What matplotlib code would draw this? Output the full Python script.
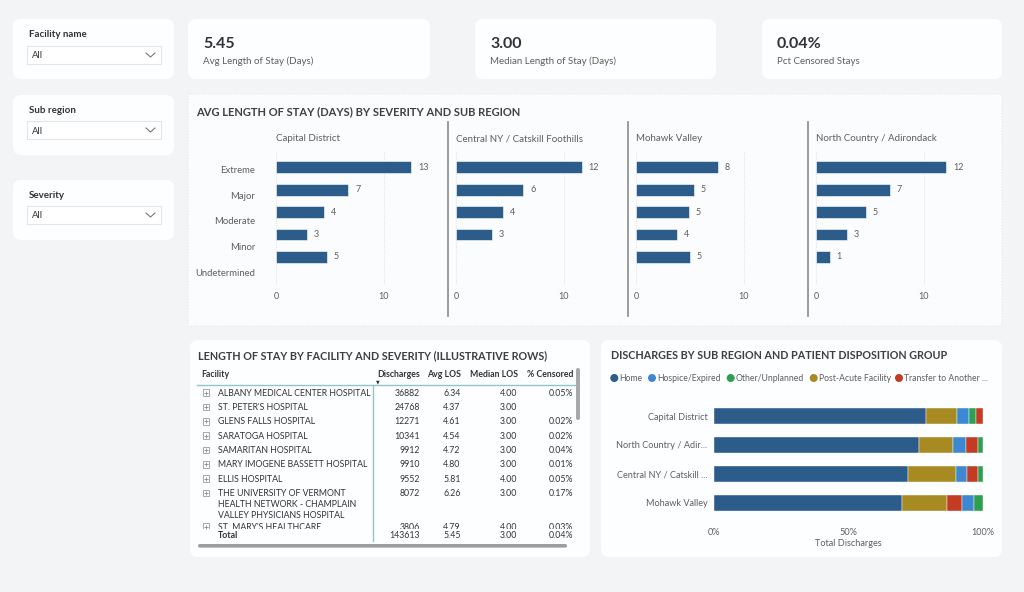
import numpy as np
import matplotlib.pyplot as plt
from matplotlib.patches import FancyBboxPatch, Rectangle, Circle

plt.rcParams['font.family'] = ['Lato', 'DejaVu Sans']

# ---- data ----
kpi_values = ['5.45', '3.00', '0.04%']
kpi_labels = ['Avg Length of Stay (Days)', 'Median Length of Stay (Days)', 'Pct Censored Stays']
filter_names = ['Facility name', 'Sub region', 'Severity']

severity = ['Extreme', 'Major', 'Moderate', 'Minor', 'Undetermined']
sub_regions = ['Capital District', 'Central NY / Catskill Foothills',
               'Mohawk Valley', 'North Country / Adirondack']
los_capital = [12.57, 6.72, 4.46, 2.85, 4.74]
los_central = [11.67, 6.25, 4.37, 3.34, np.nan]
los_mohawk = [7.59, 5.39, 4.89, 3.81, 4.98]
los_north = [12.10, 6.84, 4.64, 2.85, 1.27]

facilities = ['ALBANY MEDICAL CENTER HOSPITAL', "ST. PETER'S HOSPITAL", 'GLENS FALLS HOSPITAL',
              'SARATOGA HOSPITAL', 'SAMARITAN HOSPITAL', 'MARY IMOGENE BASSETT HOSPITAL',
              'ELLIS HOSPITAL',
              'THE UNIVERSITY OF VERMONT\nHEALTH NETWORK - CHAMPLAIN\nVALLEY PHYSICIANS HOSPITAL',
              "ST. MARY'S HEALTHCARE"]
discharges = [36882, 24768, 12271, 10341, 9912, 9910, 9552, 8072, 3806]
avg_los = [6.34, 4.37, 4.61, 4.54, 4.72, 4.80, 5.81, 6.26, 4.79]
median_los = [4.00, 3.00, 3.00, 3.00, 3.00, 3.00, 4.00, 3.00, 4.00]
pct_censored = ['0.05%', '', '0.02%', '0.02%', '0.04%', '0.01%', '0.05%', '0.17%', '0.03%']
total_row = ['Total', '143613', '5.45', '3.00', '0.04%']

disp_groups = ['Home', 'Hospice/Expired', 'Other/Unplanned', 'Post-Acute Facility', 'Transfer to Another ...']
disp_regions = ['Capital District', 'North Country / Adir...', 'Central NY / Catskill ...', 'Mohawk Valley']
share_home = [78.8, 76.1, 72.0, 69.9]
share_hospice = [4.2, 4.8, 4.2, 4.2]
share_other = [2.7, 1.9, 1.7, 3.4]
share_postacute = [11.8, 13.0, 17.9, 16.8]
share_transfer = [2.5, 4.2, 4.2, 5.7]
disp_colors = ['#2b5c8a', '#3d88d0', '#2e9e4f', '#a88a22', '#c23b22']

# ---- colours ----
BG = '#f2f4f5'
CARD = '#fdfeff'
BLUE = '#2b5c8a'
DARK = '#2f3337'
GREY = '#605e5c'
TITLE = '#3c4043'
TEAL = '#93c4c9'

W, H = 1024, 592
fig = plt.figure(figsize=(W / 100, H / 100), dpi=100)
fig.patch.set_facecolor(BG)

# background axes in pixel coordinates (y downwards)
bg = fig.add_axes([0, 0, 1, 1], zorder=0)
bg.set_xlim(0, W)
bg.set_ylim(H, 0)
bg.axis('off')


def card(x0, y0, x1, y1, fc=CARD, ec='none', r=8, ls='-'):
    bg.add_patch(FancyBboxPatch((x0, y0), x1 - x0, y1 - y0,
                                boxstyle=f'round,pad=0,rounding_size={r}',
                                fc=fc, ec=ec, lw=0.8, ls=ls))


def px_axes(x0, y0, x1, y1):
    ax = fig.add_axes([x0 / W, 1 - y1 / H, (x1 - x0) / W, (y1 - y0) / H], zorder=2)
    ax.set_facecolor('none')
    return ax


# ---- slicers ----
for i, (name, top) in enumerate(zip(filter_names, [19, 95, 180])):
    card(13, top, 174, top + 60)
    bg.text(29, top + 18, name, fontsize=7, fontweight='bold', color=DARK, va='baseline')
    box_top = top + 27 if i == 0 else top + 26
    bg.add_patch(Rectangle((27, box_top), 134, 18, fc='white', ec='#e3e5e7', lw=0.8))
    bg.text(32, box_top + 12.5, 'All', fontsize=6.8, color=DARK, va='baseline')
    cy = box_top + 9
    bg.plot([146, 150.5, 155], [cy - 2, cy + 2, cy - 2], color='#777777', lw=0.8)

# ---- KPI cards ----
for (x0, x1), val, lab in zip([(188, 430), (475, 716), (762, 1002)], kpi_values, kpi_labels):
    card(x0, 19, x1, 79)
    bg.text(x0 + 15, 48, val, fontsize=11.5, fontweight='bold', color=DARK, va='baseline')
    bg.text(x0 + 15, 64, lab, fontsize=7, color=GREY, va='baseline')

# ---- small multiples panel ----
card(188, 94, 1002, 326, fc='#fbfcfd', ec='#e4e6e8', r=2, ls=':')
bg.text(196, 115, 'AVG LENGTH OF STAY (DAYS) BY SEVERITY AND SUB REGION',
        fontsize=8.0, fontweight='bold', color=TITLE, va='baseline')

los_series = [los_capital, los_central, los_mohawk, los_north]
bar_y0, bar_step = 167.3, 22.4
top, bottom = 150, 285
ypos = np.arange(len(severity))
for i, (name, vals) in enumerate(zip(sub_regions, los_series)):
    left = 276 + 180 * i
    ax = px_axes(left, top, left + 156, bottom)
    ax.barh(ypos, vals, height=0.52, color=BLUE, edgecolor='white', linewidth=0.4)
    for y, v in zip(ypos, vals):
        if not np.isnan(v):
            ax.text(v + 0.65, y, f'{round(v)}', va='center', ha='left', fontsize=6.5, color=GREY)
    ax.set_xlim(0, 14.5)
    ax.set_ylim((bottom - bar_y0) / bar_step, (top - bar_y0) / bar_step)
    ax.set_xticks([0, 10])
    ax.tick_params(axis='x', length=0, pad=5.2, labelsize=6.5, labelcolor=GREY)
    if i == 0:
        ax.set_yticks(0.09 + 1.147 * ypos, severity)
        ax.tick_params(axis='y', length=0, pad=15, labelsize=6.8, labelcolor=GREY)
    else:
        ax.set_yticks([])
    ax.grid(axis='x', ls=':', color='#d9d9d9', lw=0.6)
    ax.set_axisbelow(True)
    for s in ax.spines.values():
        s.set_visible(False)
    bg.text(left, 141, name, fontsize=7, color=GREY, va='baseline')
    if i > 0:
        bg.plot([left - 8.5, left - 8.5], [122, 316], color='#8a8a8a', lw=1.2)

# ---- table card ----
card(190, 340, 590, 557)
bg.text(198, 359, 'LENGTH OF STAY BY FACILITY AND SEVERITY (ILLUSTRATIVE ROWS)',
        fontsize=7.75, fontweight='bold', color=TITLE, va='baseline')
col_right = [420, 460.7, 517.5, 573.5]
headers = ['Discharges', 'Avg LOS', 'Median LOS', '% Censored']
FS = 6.3
bg.text(201, 377, 'Facility', fontsize=FS, fontweight='bold', color=DARK, va='baseline')
for xr, h in zip(col_right, headers):
    bg.text(xr, 377, h, fontsize=FS, fontweight='bold', color=DARK, va='baseline', ha='right')
bg.text(378, 381.5, '\u25bc', fontsize=3.5, color=DARK, va='center', ha='center',
        family='DejaVu Sans')
bg.plot([197, 576], [384.5, 384.5], color=TEAL, lw=1.0)
bg.plot([372.5, 372.5], [385, 541], color=TEAL, lw=1.0)

tb = px_axes(190, 385.5, 590, 528.5)
tb.set_xlim(190, 590)
tb.set_ylim(528.5, 385.5)
tb.axis('off')
y = 392.7
for name, d, a, m, c in zip(facilities, discharges, avg_los, median_los, pct_censored):
    lines = name.split('\n')
    tb.add_patch(Rectangle((202.5, y - 3.3), 6.6, 6.6, fc='white', ec='#9a9a9a', lw=0.6))
    tb.plot(205.8, y, marker='+', ms=3.5, mew=0.6, color='#8a8a8a')
    for k, ln in enumerate(lines):
        tb.text(218.3, y + 11.2 * k + 3.2, ln, fontsize=FS, color=DARK, va='baseline', clip_on=True)
    for xr, s in zip(col_right, [f'{d}', f'{a:.2f}', f'{m:.2f}', c]):
        tb.text(xr, y + 3.2, s, fontsize=FS, color=DARK, va='baseline', ha='right', clip_on=True)
    y += 14.3 + 9.8 * (len(lines) - 1)

bg.text(218.3, 538.2, total_row[0], fontsize=FS, fontweight='bold', color=DARK, va='baseline')
for xr, s in zip(col_right, total_row[1:]):
    bg.text(xr, 538.2, s, fontsize=FS, color=DARK, va='baseline', ha='right')
bg.add_patch(FancyBboxPatch((198, 544), 369, 3.6, boxstyle='round,pad=0,rounding_size=1.8',
                            fc='#9d9d9d', ec='none'))
bg.add_patch(FancyBboxPatch((576, 368), 4, 52, boxstyle='round,pad=0,rounding_size=2',
                            fc='#a8a8a8', ec='none'))

# ---- stacked bar card ----
card(601, 340, 1002, 557)
bg.text(610.7, 359, 'DISCHARGES BY SUB REGION AND PATIENT DISPOSITION GROUP',
        fontsize=7.75, fontweight='bold', color=TITLE, va='baseline')
legend_x = [614.3, 652, 730.7, 813.7, 899]
for xl, lab, col in zip(legend_x, disp_groups, disp_colors):
    bg.add_patch(Circle((xl, 378), 4, fc=col, ec='none'))
    bg.text(xl + 5.3, 380.6, lab, fontsize=6.2, color=GREY, va='baseline')

ax2 = px_axes(714.3, 398, 982.7, 522)
shares = np.array([share_home, share_hospice, share_other, share_postacute, share_transfer])
for r in range(len(disp_regions)):
    order = np.argsort(-shares[:, r], kind='stable')
    start = 0
    for g in order:
        ax2.barh(r, shares[g, r], left=start, height=0.54, color=disp_colors[g],
                 edgecolor='white', linewidth=0.3)
        start += shares[g, r]
ax2.set_xlim(0, 100)
ax2.set_ylim((522 - 416) / 28.9, (398 - 416) / 28.9)
ax2.set_yticks(range(len(disp_regions)), disp_regions)
ax2.set_xticks([0, 50, 100], ['0%', '50%', '100%'])
ax2.tick_params(axis='y', length=0, pad=5, labelsize=6.6, labelcolor=GREY)
ax2.tick_params(axis='x', length=0, pad=4.5, labelsize=6.6, labelcolor=GREY)
ax2.set_xlabel('Total Discharges', fontsize=6.6, color=GREY, labelpad=1.5)
for s in ax2.spines.values():
    s.set_visible(False)

fig.savefig('out.png', dpi=100, facecolor=BG)
